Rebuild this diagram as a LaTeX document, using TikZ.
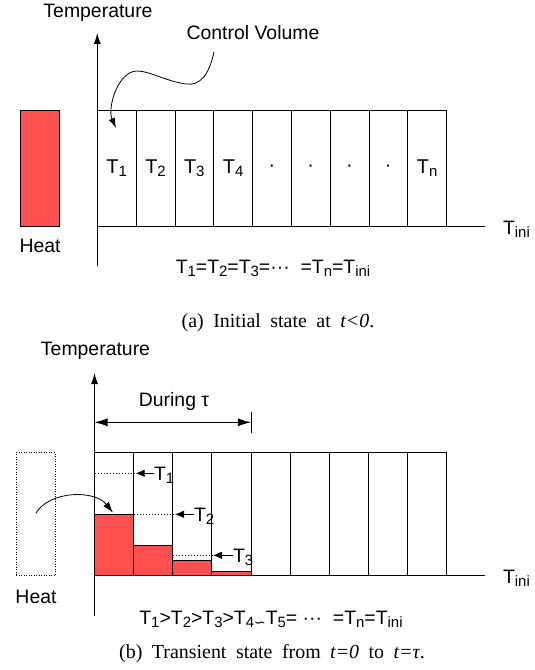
\documentclass[tikz,border=0pt]{standalone}
\usepackage{fontspec}
\setmainfont{Liberation Serif}
\setsansfont{Liberation Sans}
\newfontfamily\symfont{DejaVu Sans}
\usetikzlibrary{arrows.meta,positioning}
\definecolor{heatred}{RGB}{255,80,80}
\newcommand{\lowidx}[1]{\raisebox{-3bp}{\fontsize{15}{15}\selectfont #1}}

\begin{document}
\begin{tikzpicture}[x=1bp,y=-1bp,line width=0.8bp,
    every node/.style={inner sep=0pt,outer sep=0pt,font=\sffamily\fontsize{19.5}{19.5}\selectfont},
    cella/.style={rectangle,draw,minimum width=38.8bp,minimum height=116.7bp,anchor=south west,font=\sffamily\fontsize{20}{20}\selectfont},
    cellb/.style={rectangle,draw,minimum width=39.1bp,minimum height=122.6bp,anchor=south west},
    heatbox/.style={rectangle,draw,minimum width=39.2bp},
    capt/.style={font=\rmfamily\fontsize{20}{20}\selectfont},
    axisarrow/.style={-{Latex[length=11bp,width=7bp]}},
    ptr/.style={-{Latex[length=9bp,width=7.5bp]}},
    fine/.style={dash pattern=on 1.5bp off 1.5bp},
    bar/.style={draw,fill=heatred}]
\useasboundingbox (0,0) rectangle (535,670);

\node (tempa) at (98,13.3) {Temperature};
\node (cv) at (253,32.3) {Control Volume};
\coordinate (ya0) at (97.3,265.7);
\coordinate (ya1) at (97.3,33);
\draw[axisarrow] (ya0) -- (ya1);
\foreach \i/\t in {1/T\lowidx{1},2/T\lowidx{2},3/T\lowidx{3},4/T\lowidx{4},5/·,6/·,7/·,8/·,9/T\lowidx{n}}
  \node[cella] (a\i) at ({97.3+(\i-1)*38.8},226.7) {\t};
\coordinate (xa1) at (485,226.7);
\draw (a1.south west) -- (xa1);
\node[anchor=west] (tinia) at (503,229.3) {T\lowidx{ini}};
\node[heatbox,fill=heatred,minimum height=116.7bp] (heata) at (40.1,168.35) {};
\node[below=12bp of heata] (heatla) {Heat};
\coordinate (cvs) at (214,52);
\coordinate (cvt) at (116,128);
\draw[-{Latex[length=10bp,width=6.5bp]}] (cvs) .. controls (209,75) and (200,86) .. (186,84)
  .. controls (165,81) and (150,71) .. (137,71) .. controls (118,71) and (107,108) .. (cvt);
\node (eqa) at (273,268) {T\lowidx{1}=T\lowidx{2}=T\lowidx{3}=···\ \ =T\lowidx{n}=T\lowidx{ini}};
\node[capt] (capa) at (278,323) {\spaceskip=9.5bp (a) Initial state at \textit{t<0}.};

\node (tempb) at (95.5,350.7) {Temperature};
\foreach \i/\h in {1/514.3,2/545.3,3/560.3,4/571.3}
  \draw[bar] ({94.5+(\i-1)*39.1},\h) rectangle ({94.5+\i*39.1},575.3);
\foreach \i in {1,...,9}
  \node[cellb] (b\i) at ({94.5+(\i-1)*39.1},575.3) {};
\coordinate (yb0) at (94.5,616);
\coordinate (yb1) at (94.5,373);
\draw[axisarrow] (yb0) -- (yb1);
\node (dur) at (174,401.7) {During τ};
\coordinate (dl) at (94.5,422.3);
\coordinate (dr) at (b4.east |- dl);
\draw[{Latex[length=13bp,width=8bp]}-{Latex[length=13bp,width=8bp]}] (dl) -- (dr);
\draw (dr) ++(0,-10.6) -- ++(0,21);
\coordinate (xb1) at (485,575.3);
\draw (b1.south west) -- (xb1);
\node[anchor=west] (tinib) at (503,578) {T\lowidx{ini}};

\node[anchor=base west] (lt1) at (154,480.5) {T\lowidx{1}};
\coordinate (p1) at (135.7,473.3);
\draw[fine] (b1.west |- p1) -- (b1.east |- p1);
\draw[ptr] (lt1.west |- p1) -- (p1);
\node[anchor=base west] (lt2) at (194,521.5) {T\lowidx{2}};
\coordinate (p2) at (175,514.3);
\draw[fine] (b2.west |- p2) -- (b2.east |- p2);
\draw[ptr] (lt2.west |- p2) -- (p2);
\node[anchor=base west] (lt3) at (233,562.5) {T\lowidx{3}};
\coordinate (p3) at (213,555.3);
\draw[fine] (b3.west |- p3) -- (b3.east |- p3);
\draw[ptr] (lt3.west |- p3) -- (p3);

\node[heatbox,dash pattern=on 1bp off 1.5bp,minimum height=122.6bp] (heatb) at (36,514) {};
\node[below=14.6bp of heatb] (heatlb) {Heat};
\coordinate (hs) at (35.8,513.3);
\coordinate (ht) at (113,512.7);
\draw[-{Latex[length=11bp,width=7bp]}] (hs) .. controls (50,490) and (95,490) .. (ht);
\node (eqb) at (271,619.3) {T\lowidx{1}>T\lowidx{2}>T\lowidx{3}>T\lowidx{4}\raisebox{-3bp}{\symfont\fontsize{14}{14}\selectfont ∽}T\lowidx{5}=\ ···\ \ =T\lowidx{n}=T\lowidx{ini}};
\node[capt] (capb) at (272,653.3) {\spaceskip=9.5bp (b) Transient state from \textit{t=0} to \textit{t=τ}.};
\end{tikzpicture}
\end{document}
